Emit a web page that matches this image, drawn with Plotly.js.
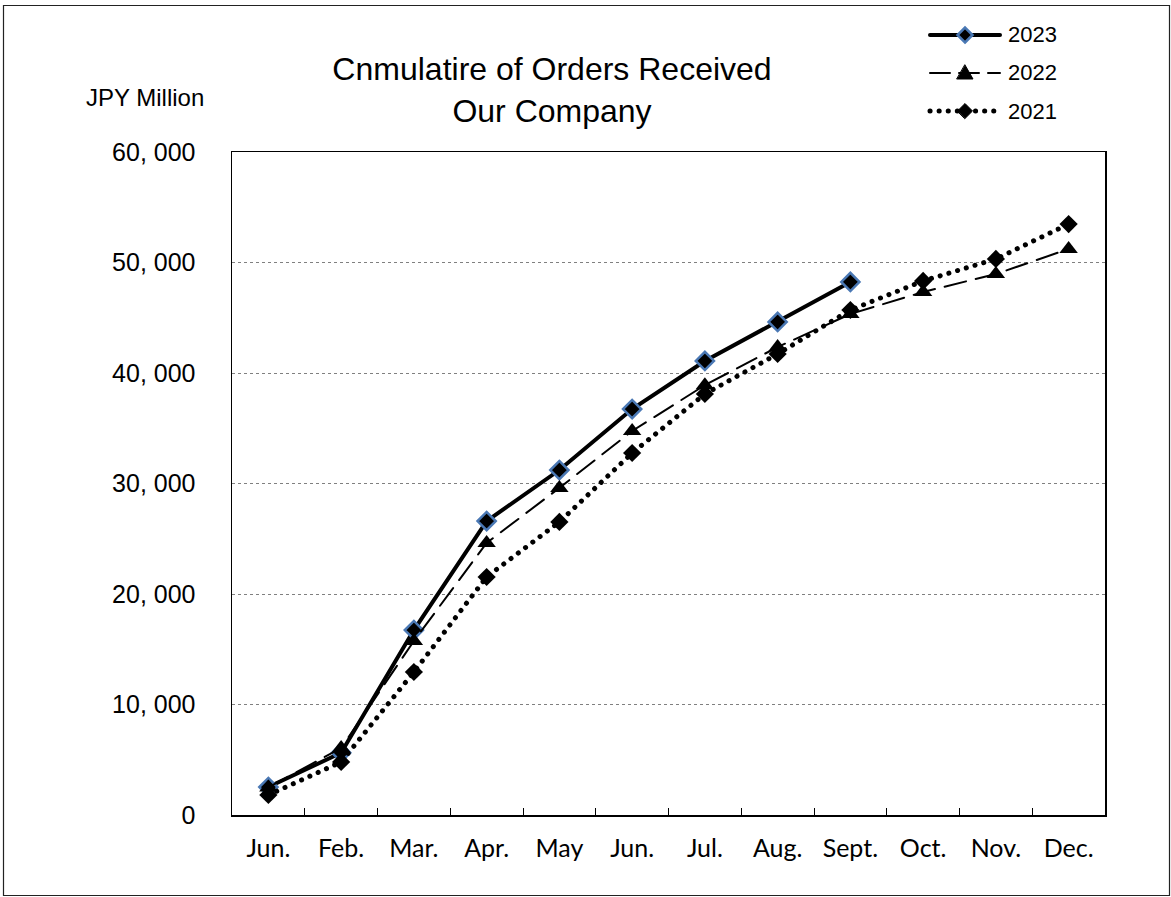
<!DOCTYPE html>
<html>
<head>
<meta charset="utf-8">
<script src="https://cdn.plot.ly/plotly-3.0.1.min.js"></script>
<style>
  html, body { margin: 0; padding: 0; background: #fff; }
  #chart { width: 1171px; height: 897px; }
  .scatterlayer path.js-line, .shapelayer path { stroke-linecap: round; }
</style>
</head>
<body>
<div id="chart"></div>
<script>
// Categories (internal keys) and the tick labels as printed on the chart
var categories = ['m01','m02','m03','m04','m05','m06','m07','m08','m09','m10','m11','m12'];
var monthLabels = ['Jun.','Feb.','Mar.','Apr.','May','Jun.','Jul.','Aug.','Sept.','Oct.','Nov.','Dec.'];

// Cumulative orders received, JPY million
var seriesNames = ['2023', '2022', '2021'];
var values2023 = [2530, 5630, 16740, 26600, 31220, 36740, 41090, 44620, 48240];
var values2022 = [2500, 6060, 15750, 24620, 29600, 34750, 38900, 42350, 45340, 47330, 48960, 51220];
var values2021 = [1810, 4800, 12940, 21540, 26520, 32760, 38100, 41720, 45700, 48330, 50320, 53480];

var yTickVals = [0, 10000, 20000, 30000, 40000, 50000, 60000];
var yTickText = ['0', '10, 000', '20, 000', '30, 000', '40, 000', '50, 000', '60, 000'];

var arial = 'Liberation Sans, Arial, sans-serif';
var blueEdge = '#4A78B4';

// plot-area geometry (pixels) used to place non-data decorations
var M = {l: 232, r: 66, t: 152, b: 82};
var PW = 1171 - M.l - M.r, PH = 897 - M.t - M.b;
function px(x) { return (x - M.l) / PW; }
function py(y) { return (897 - M.b - y) / PH; }

var styles = [
  {line: {color: '#000', width: 4}, marker: {symbol: 'diamond', size: 14, color: '#000', line: {color: blueEdge, width: 2.5}}},
  {line: {color: '#000', width: 2, dash: '22px,10px'}, marker: {symbol: 'triangle-up', size: 16, color: '#000'}},
  {line: {color: '#000', width: 5, dash: '0.1px,9px'}, marker: {symbol: 'diamond', size: 14, color: '#000'}}
];
var valuesList = [values2023, values2022, values2021];

var traces = valuesList.map(function (vals, i) {
  return {
    name: seriesNames[i], x: categories.slice(0, vals.length), y: vals,
    type: 'scatter', mode: 'lines+markers',
    line: styles[i].line, marker: styles[i].marker, showlegend: false
  };
});

// Hand-made legend (long line samples as in the original)
var legendRows = [35, 73, 111];
var legendShapes = [];
var legendAnns = [];
var legendLineDash = ['solid', '20px,9px', '0.1px,9px'];
var legendLineWidth = [4, 2, 5];
legendRows.forEach(function (ry, i) {
  legendShapes.push({
    type: 'line', xref: 'paper', yref: 'paper',
    x0: px(930), x1: px(1000), y0: py(ry), y1: py(ry),
    line: {color: '#000', width: legendLineWidth[i], dash: legendLineDash[i]}
  });
  var path;
  if (i === 1) {
    path = 'M-8,-6 L8,-6 L0,8 Z';
  } else {
    path = 'M0,-7.5 L7.5,0 L0,7.5 L-7.5,0 Z';
  }
  legendShapes.push({
    type: 'path', xref: 'paper', yref: 'paper',
    xsizemode: 'pixel', ysizemode: 'pixel',
    xanchor: px(965), yanchor: py(ry),
    path: path,
    fillcolor: '#000',
    line: {color: i === 0 ? blueEdge : '#000', width: i === 0 ? 2.5 : 1}
  });
  legendAnns.push({
    text: seriesNames[i], xref: 'paper', yref: 'paper',
    x: px(1006), y: py(ry), xanchor: 'left', yanchor: 'middle',
    showarrow: false, font: {family: arial, size: 22, color: '#000'}
  });
});

var layout = {
  width: 1171, height: 897,
  margin: M,
  paper_bgcolor: '#ffffff', plot_bgcolor: '#ffffff',
  showlegend: false,
  title: {
    text: 'Cnmulatire of Orders Received<br>Our Company',
    xref: 'container', x: 552 / 1171, xanchor: 'center',
    yref: 'container', y: 1 - 80 / 897, yanchor: 'top',
    font: {family: arial, size: 32, color: '#000'}
  },
  xaxis: {
    type: 'category',
    categoryorder: 'array', categoryarray: categories,
    tickmode: 'array', tickvals: categories, ticktext: monthLabels,
    tickson: 'boundaries',
    ticks: 'inside', ticklen: 7, tickwidth: 1, tickcolor: '#000',
    showgrid: false, zeroline: false,
    showline: true, linecolor: '#000', linewidth: 1.5, mirror: true,
    ticklabelstandoff: 10,
    tickfont: {family: 'Lato, Open Sans, sans-serif', size: 25, color: '#000'},
    range: [-0.5, 11.5]
  },
  yaxis: {
    range: [0, 60000],
    tickmode: 'array', tickvals: yTickVals, ticktext: yTickText,
    ticks: '', showgrid: true, gridcolor: '#808080', gridwidth: 1, griddash: 'dot',
    zeroline: false,
    showline: true, linecolor: '#000', linewidth: 1.5, mirror: true,
    ticklabelstandoff: 30,
    tickfont: {family: arial, size: 25, color: '#000'}
  },
  annotations: [
    {
      text: 'JPY Million', xref: 'paper', yref: 'paper',
      x: px(145), y: py(97), xanchor: 'center', yanchor: 'middle',
      showarrow: false,
      font: {family: arial, size: 24, color: '#000'}
    }
  ].concat(legendAnns),
  shapes: [
    {
      type: 'rect', xref: 'paper', yref: 'paper',
      x0: px(3.5), x1: px(1169.5), y0: py(895.5), y1: py(5.5),
      line: {color: '#222', width: 1.2}, fillcolor: 'rgba(0,0,0,0)', layer: 'below'
    }
  ].concat(legendShapes)
};

Plotly.newPlot('chart', traces, layout, {displayModeBar: false, staticPlot: true});
</script>
</body>
</html>
